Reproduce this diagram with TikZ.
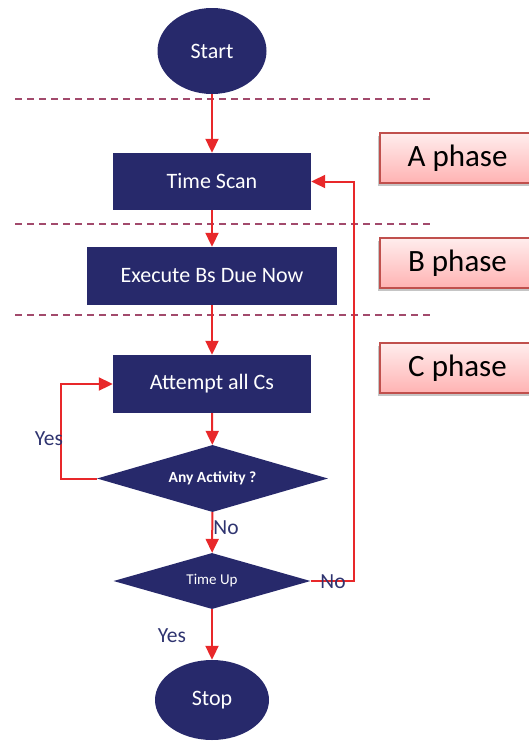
\documentclass[tikz,border=0pt]{standalone}
\usepackage{fontspec}
\setmainfont{Carlito}
\usetikzlibrary{shapes.geometric,arrows.meta,shadows}
\definecolor{navy}{HTML}{27296B}
\definecolor{flowred}{HTML}{E8282A}
\definecolor{sepline}{HTML}{A24A6C}
\definecolor{labtext}{HTML}{2F3470}
\definecolor{phaseedge}{HTML}{C0504D}
\begin{document}
\begin{tikzpicture}[x=1pt,y=-1pt,
  term/.style={ellipse,fill=navy,draw=none,inner sep=0pt,text=white,font=\fontsize{22}{24}\selectfont},
  procbox/.style={rectangle,fill=navy,draw=none,inner sep=0pt,text=white,font=\fontsize{22}{24}\selectfont},
  decide/.style={diamond,fill=navy,draw=none,inner sep=0pt,aspect=3.4,text=white},
  flow/.style={draw=flowred,line width=2pt,-{Triangle[length=14pt,width=13pt]}},
  sep/.style={draw=sepline,line width=1.4pt,dash pattern=on 7pt off 5pt},
  branch/.style={text=labtext,font=\fontsize{21.5}{24}\selectfont,inner sep=0pt},
  phase/.style={rectangle,draw=phaseedge,line width=1.3pt,top color=red!7,bottom color=red!30,
    drop shadow={shadow xshift=-2pt,shadow yshift=-3pt,fill=black!45,opacity=0.5},
    minimum width=155pt,minimum height=50pt,inner sep=0pt,font=\fontsize{31}{34}\selectfont,text=black}
]
\useasboundingbox (0,0) rectangle (529,742);

% phase separators
\draw[sep] (15,99) -- (430,99);
\draw[sep] (15,224) -- (430,224);
\draw[sep] (15,315) -- (430,315);

% flowchart nodes
\node[term,minimum width=109pt,minimum height=86pt] (start) at (212,51) {Start};
\node[procbox,minimum width=198pt,minimum height=57pt] (scan) at (212,181.5) {Time Scan};
\node[procbox,minimum width=250pt,minimum height=58pt] (bexec) at (212,276) {Execute Bs Due Now};
\node[procbox,minimum width=198pt,minimum height=58pt] (cattempt) at (212,384) {Attempt all Cs};
\node[decide,minimum width=231pt,minimum height=67pt,font=\bfseries\fontsize{15.5}{17}\selectfont] (anyact) at (212.5,478.5) {Any Activity ?};
\node[decide,minimum width=197pt,minimum height=56pt,font=\fontsize{15}{17}\selectfont] (timeup) at (212,581) {Time Up};
\node[term,minimum width=114pt,minimum height=80pt] (stop) at (212,700) {Stop};

% helper coordinates for the loops
\coordinate (loopL) at (61,478.5);
\coordinate (loopR) at (354,581);

% connectors
\draw[flow] (start) -- (scan);
\draw[flow] (scan) -- (bexec);
\draw[flow] (bexec) -- (cattempt);
\draw[flow] (cattempt) -- (anyact);
\draw[flow] (anyact) -- (timeup);
\draw[flow] (timeup) -- (stop);
\draw[flow] (anyact.west) -- (loopL) |- (cattempt.west);
\draw[flow] (timeup.east) -- (loopR) |- (scan.east);

% branch labels
\node[branch] (yes1) at (49,439) {Yes};
\node[branch] (no1) at (226,528) {No};
\node[branch] (no2) at (333,582) {No};
\node[branch] (yes2) at (172,636) {Yes};

% phase tags (boxes run past the right edge)
\node[phase] (pa) at (457.5,158) {A phase};
\node[phase] (pb) at (457.5,263) {B phase};
\node[phase] (pc) at (457.5,368) {C phase};
\end{tikzpicture}
\end{document}
